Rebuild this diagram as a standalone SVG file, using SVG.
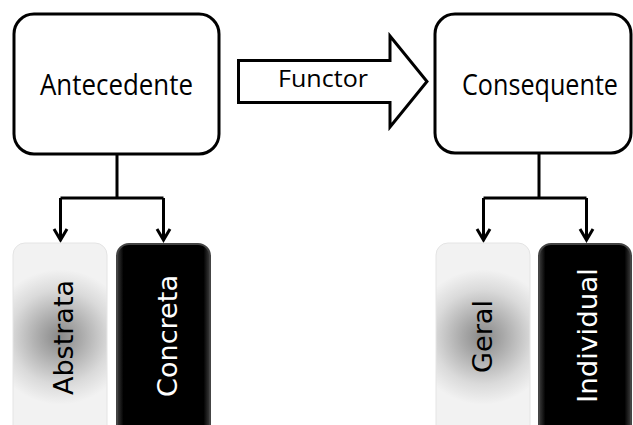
<svg xmlns="http://www.w3.org/2000/svg" width="633" height="425" viewBox="0 0 633 425">
  <style>
    .box { fill: #ffffff; stroke: #000000; stroke-width: 3; }
    .wire { fill: none; stroke: #000000; stroke-width: 3; }
    .head { fill: none; stroke: #000000; stroke-width: 3; stroke-linejoin: miter; }
    .label { font-family: "Open Sans", "Noto Sans", "Liberation Sans", sans-serif; fill: #000000; text-anchor: middle; }
    .vlabel { font-family: "DejaVu Sans", "Liberation Sans", sans-serif; font-size: 26px; text-anchor: middle; }
    .soft { fill: url(#softFill); stroke: #e4e4e4; stroke-width: 1; }
    .dark { fill: url(#darkEdge); stroke: #444444; stroke-width: 2; }
  </style>
  <defs>
    <!-- round grey glow centred in the light boxes -->
    <radialGradient id="softFill" cx="0.5" cy="0.47" r="0.75" gradientTransform="translate(0.5 0.47) scale(1 0.45) translate(-0.5 -0.47)">
      <stop offset="0" stop-color="#888888"/>
      <stop offset="0.3" stop-color="#aaaaaa"/>
      <stop offset="0.7" stop-color="#dadada"/>
      <stop offset="1" stop-color="#f2f2f2"/>
    </radialGradient>
    <!-- black boxes with a faint glossy rim -->
    <linearGradient id="darkEdge" x1="0" y1="0" x2="1" y2="0">
      <stop offset="0" stop-color="#3c3c3c"/>
      <stop offset="0.07" stop-color="#000000"/>
      <stop offset="0.93" stop-color="#000000"/>
      <stop offset="1" stop-color="#3c3c3c"/>
    </linearGradient>
  </defs>

  <!-- connectors -->
  <g id="connectors">
    <path class="wire" d="M117 154 V198 M60.5 198 H163.5 M60.5 198 V240 M163.5 198 V240"/>
    <path class="head" d="M54 229 L60.5 240 L67 229"/>
    <path class="head" d="M157 229 L163.5 240 L170 229"/>
    <path class="wire" d="M539 153 V198 M483.5 198 H586.5 M483.5 198 V240 M586.5 198 V240"/>
    <path class="head" d="M477 229 L483.5 240 L490 229"/>
    <path class="head" d="M580 229 L586.5 240 L593 229"/>
  </g>

  <g id="functor">
    <polygon class="box" points="238.5,60.5 390,60.5 390,36 427,81.5 390,127 390,102.5 238.5,102.5"/>
    <text class="label" x="323" y="87" font-size="24" textLength="90" lengthAdjust="spacingAndGlyphs">Functor</text>
  </g>

  <g id="antecedente">
    <rect class="box" x="14" y="14" width="205" height="140" rx="20" ry="20"/>
    <text class="label" x="116.5" y="95" font-size="29" textLength="153" lengthAdjust="spacingAndGlyphs">Antecedente</text>
  </g>

  <g id="consequente">
    <rect class="box" x="435" y="14" width="196" height="139" rx="20" ry="20"/>
    <text class="label" x="540" y="95" font-size="29" textLength="156" lengthAdjust="spacingAndGlyphs">Consequente</text>
  </g>

  <g id="abstrata">
    <rect class="soft" x="13" y="243" width="94" height="200" rx="12" ry="12"/>
    <text class="vlabel" transform="translate(73 337.5) rotate(-90)" x="0" y="0" fill="#000000" textLength="115" lengthAdjust="spacingAndGlyphs">Abstrata</text>
  </g>

  <g id="concreta">
    <rect class="dark" x="117" y="244" width="93" height="200" rx="12" ry="12"/>
    <text class="vlabel" transform="translate(177 336) rotate(-90)" x="0" y="0" fill="#ffffff" textLength="122" lengthAdjust="spacingAndGlyphs">Concreta</text>
  </g>

  <g id="geral">
    <rect class="soft" x="436" y="243" width="94" height="200" rx="12" ry="12"/>
    <text class="vlabel" transform="translate(492 336.5) rotate(-90)" x="0" y="0" fill="#000000" textLength="73" lengthAdjust="spacingAndGlyphs">Geral</text>
  </g>

  <g id="individual">
    <rect class="dark" x="539" y="244" width="92" height="200" rx="12" ry="12"/>
    <text class="vlabel" transform="translate(597 335.5) rotate(-90)" x="0" y="0" fill="#ffffff" textLength="135" lengthAdjust="spacingAndGlyphs">Individual</text>
  </g>
</svg>
